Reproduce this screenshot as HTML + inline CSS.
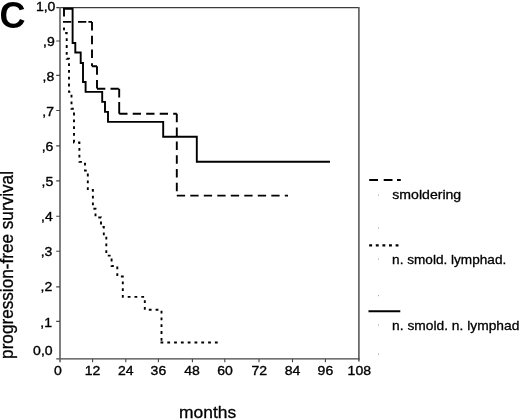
<!DOCTYPE html>
<html>
<head>
<meta charset="utf-8">
<style>
html,body{margin:0;padding:0;background:#fff;}
body{width:520px;height:420px;overflow:hidden;}
svg{display:block;will-change:transform;opacity:0.999;font-family:"Liberation Sans",sans-serif;}
</style>
</head>
<body>
<svg width="520" height="420" viewBox="0 0 520 420">
<rect width="520" height="420" fill="#fff"/>
<!-- panel letter -->
<text x="-0.5" y="27.6" font-size="36" font-weight="bold" fill="#000">C</text>

<!-- frame -->
<g fill="none" stroke-linecap="butt">
<path d="M56.3,7.6 H358.9" stroke="#3c3c3c" stroke-width="1.3"/>
<path d="M358.9,7 V361.5" stroke="#585858" stroke-width="1.6"/>
<path d="M56.3,358.9 H359.6" stroke="#444" stroke-width="1.3"/>
<path d="M60,7 V362.3" stroke="#606060" stroke-width="1.6"/>
</g>
<!-- y ticks -->
<g stroke="#444" stroke-width="1.1" fill="none">
<path d="M56.2,41H60M56.2,75.4H60M56.2,110.5H60M56.2,145.9H60M56.2,180.9H60M56.2,216.3H60M56.2,251.3H60M56.2,286.9H60M56.2,321.4H60"/>
<!-- x ticks -->
<path d="M92.6,359V362.3M125.8,359V362.3M158.4,359V362.3M192.4,359V362.3M224.8,359V362.3M259,359V362.3M292.5,359V362.3M325.4,359V362.3"/>
</g>

<!-- y labels -->
<g font-size="13" fill="#000" stroke="#000" stroke-width="0.35">
<text text-anchor="end" transform="translate(55.4,10.8) scale(1.08,1)">1,0</text>
<text transform="translate(43.0,45.6) scale(1.08,1)">,9</text>
<text transform="translate(42.6,80.8) scale(1.08,1)">,8</text>
<text transform="translate(42.3,115.5) scale(1.08,1)">,7</text>
<text transform="translate(41.7,150.6) scale(1.08,1)">,6</text>
<text transform="translate(41.5,185.7) scale(1.08,1)">,5</text>
<text transform="translate(41.1,220.9) scale(1.08,1)">,4</text>
<text transform="translate(40.7,255.9) scale(1.08,1)">,3</text>
<text transform="translate(40.5,291.1) scale(1.08,1)">,2</text>
<text transform="translate(40.3,326.6) scale(1.08,1)">,1</text>
<text text-anchor="end" transform="translate(52.6,355.2) scale(1.08,1)">0,0</text>
</g>
<!-- x labels -->
<g font-size="13" fill="#000" stroke="#000" stroke-width="0.35" text-anchor="middle">
<text transform="translate(57.8,375.4) scale(1.08,1)">0</text>
<text transform="translate(92.6,375.4) scale(1.08,1)">12</text>
<text transform="translate(125.8,375.4) scale(1.08,1)">24</text>
<text transform="translate(158.4,375.4) scale(1.08,1)">36</text>
<text transform="translate(192,375.4) scale(1.08,1)">48</text>
<text transform="translate(225,375.4) scale(1.08,1)">60</text>
<text transform="translate(259.2,375.4) scale(1.08,1)">72</text>
<text transform="translate(292.5,375.4) scale(1.08,1)">84</text>
<text transform="translate(325.4,375.4) scale(1.08,1)">96</text>
<text transform="translate(359.3,375.4) scale(1.08,1)">108</text>
</g>
<!-- axis titles -->
<text transform="translate(179,418) scale(1.025,1)" font-size="17" fill="#000" stroke="#000" stroke-width="0.3">months</text>
<text transform="translate(13,358.9) rotate(-90) scale(1.01,1.03)" font-size="17" fill="#000" stroke="#000" stroke-width="0.3">progression-free survival</text>

<!-- curves -->
<g fill="none" stroke="#000" stroke-width="1.9" stroke-linejoin="miter">
<!-- solid -->
<path d="M63,8.8 H72.6 V43 H75.3 V52.5 H80.7 V63 H83 V82 H85.6 V91.9 H102.2 V101.9 H105 V111.9 H108 V121.9 H163.2 V136.8 H196.8 V161.8 H330"/>
<!-- dashed -->
<g>
<path d="M64,8 V21.9 M92,21.9 V66.2 M97,66.2 V88.8 M176.8,113.8 V195.6" stroke-dasharray="8.5 5.3"/>
<path d="M63,21.9 H72 M78,21.9 H86.4 M88.4,21.9 H92 M92,66.2 H97 M97,88.8 H119.2 M119.2,113.8 H176.8 M176.8,195.6 H288" stroke-dasharray="8.3 5.2"/>
</g>
<path d="M119.2,88.8 V97.4 M119.2,102 V113.8"/>
<!-- dotted -->
<path d="M64,27.4 V33 H66.7 V58.8 H69 V91.9 H71.5 V108.8 H74 V142.5 H79.4 V161.9 H85 V170.6 H87.8 V190 H92.9 V208.8 H95.5 V217.5 H101 V226.9 H103.8 V236.3 H106.3 V255.6 H111.6 V266 H117.3 V276.5 H122.8 V296.9 H144.8 V309.8 H161.5 V341 M160.5,342.5 H218" stroke-dasharray="2.8 4"/>
</g>

<!-- legend -->
<g fill="none" stroke="#000" stroke-width="2">
<path d="M369.2,180 H378 M383.7,180 H392.5 M397,180 H400.8"/>
<path d="M369.2,245.3 H399" stroke-dasharray="2.9 3.7" stroke-width="2.2"/>
<path d="M368.5,311.3 H400.3"/>
</g>
<g font-size="13" fill="#000" stroke="#000" stroke-width="0.3">
<text transform="translate(392.3,199.3) scale(1.085,1)">smoldering</text>
<text transform="translate(392.1,264) scale(1.047,1)">n. smold. lymphad.</text>
<text transform="translate(392.1,330) scale(1.062,1)">n. smold. n. lymphad</text>
</g>
<!-- faint specks -->
<g fill="#a8a8a8">
<rect x="378" y="194.5" width="1" height="1.2"/>
<rect x="378" y="227.5" width="1" height="1.2"/>
<rect x="378" y="258.5" width="1" height="1.2"/>
<rect x="378" y="295" width="1" height="1.2"/>
<rect x="378" y="324.5" width="1" height="1.2"/>
<rect x="378" y="353.5" width="1" height="1.2"/>
</g>
</svg>
</body>
</html>
